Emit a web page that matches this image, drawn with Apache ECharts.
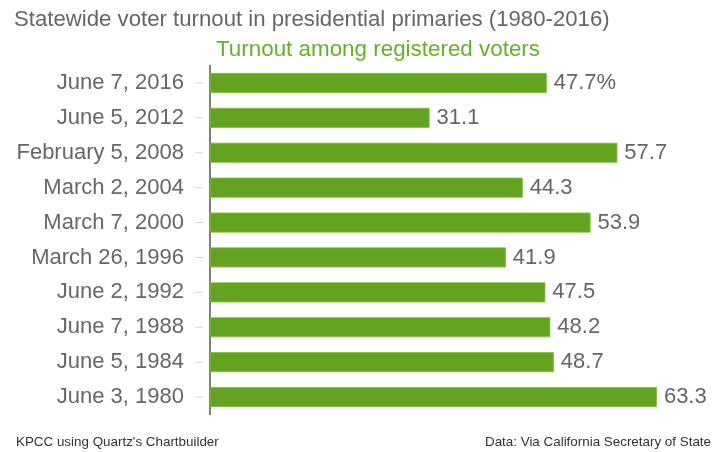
<!DOCTYPE html>
<html><head><meta charset="utf-8">
<script src="https://cdn.jsdelivr.net/npm/echarts@6/dist/echarts.min.js"></script>
<style>html,body{margin:0;padding:0;background:#fff}#c{width:717px;height:452px}</style>
</head><body><div id="c"></div>
<script>
const categories = ["June 7, 2016","June 5, 2012","February 5, 2008","March 2, 2004","March 7, 2000","March 26, 1996","June 2, 1992","June 7, 1988","June 5, 1984","June 3, 1980"];
const turnout = [47.7, 31.1, 57.7, 44.3, 53.9, 41.9, 47.5, 48.2, 48.7, 63.3];

const chart = echarts.init(document.getElementById('c'), null, {renderer:'canvas'});
const font = '"Liberation Sans", Arial, Helvetica, sans-serif';
chart.setOption({
  animation: false,
  textStyle: {fontFamily: font},
  title: [
    {text: 'Statewide voter turnout in presidential primaries (1980-2016)', left: 9, top: 4,
     textStyle: {fontSize: 22.2, fontWeight: 'normal', color: '#666', fontFamily: font}},
    {text: 'Turnout among registered voters', left: 373, textAlign: 'center', top: 34,
     textStyle: {fontSize: 22.4, fontWeight: 'normal', color: '#6aaf2a', fontFamily: font}},
    {text: "KPCC using Quartz's Chartbuilder", left: 11, top: 431,
     textStyle: {fontSize: 13.4, fontWeight: 'normal', color: '#333', fontFamily: font}},
    {text: 'Data: Via California Secretary of State', right: 1, top: 431,
     textStyle: {fontSize: 13.4, fontWeight: 'normal', color: '#333', fontFamily: font}}
  ],
  grid: {left: 210, top: 65.5, bottom: 452 - 414.5, width: 70 * 7.06, containLabel: false},
  xAxis: {type: 'value', min: 0, max: 70, show: false},
  yAxis: {
    type: 'category', data: categories, inverse: true,
    axisLine: {show: true, lineStyle: {color: '#555', width: 1.5}},
    axisTick: {show: false},
    axisLabel: {
      margin: 7,
      formatter: v => '{a|' + v + '}{t|}',
      rich: {
        a: {fontSize: 22, color: '#666', fontFamily: font, padding: [0, 11, 0, 0]},
        t: {width: 8, height: 1, backgroundColor: '#d4d4d4'}
      }
    }
  },
  series: [{
    type: 'bar', data: turnout, barWidth: 20,
    itemStyle: {color: '#63a31f', borderColor: '#7cbf3a', borderWidth: 0.8},
    label: {
      show: true, position: 'right', distance: 7, fontSize: 22, color: '#666', fontFamily: font,
      formatter: p => p.dataIndex === 0 ? p.value + '%' : String(p.value)
    }
  }]
});
</script></body></html>
